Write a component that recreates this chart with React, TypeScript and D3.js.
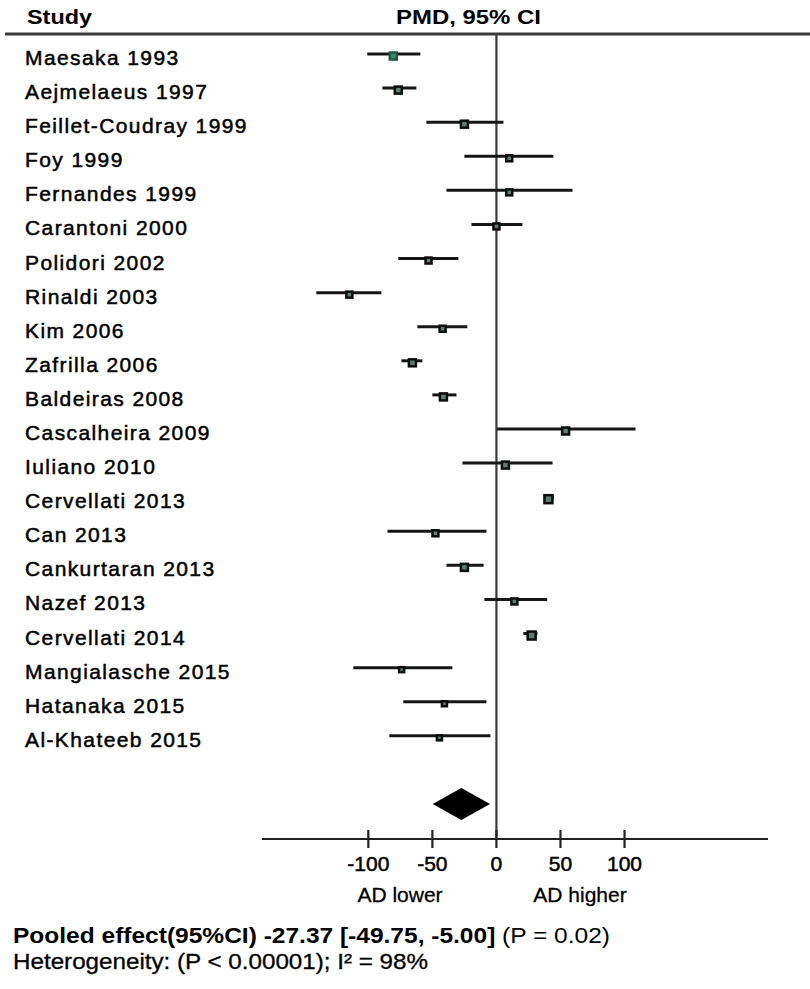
import React, { useEffect, useRef } from 'react';
import * as d3 from 'd3';

// studies, top to bottom
const studies = [
  'Maesaka 1993', 'Aejmelaeus 1997', 'Feillet-Coudray 1999', 'Foy 1999', 'Fernandes 1999',
  'Carantoni 2000', 'Polidori 2002', 'Rinaldi 2003', 'Kim 2006', 'Zafrilla 2006',
  'Baldeiras 2008', 'Cascalheira 2009', 'Iuliano 2010', 'Cervellati 2013', 'Can 2013',
  'Cankurtaran 2013', 'Nazef 2013', 'Cervellati 2014', 'Mangialasche 2015', 'Hatanaka 2015',
  'Al-Khateeb 2015'
];
const pmd = [-80.5, -76.6, -25, 10, 10, 0, -53, -114.8, -42, -65.6, -41.4, 54, 7, 40.6, -47.6, -25, 14, 27.5, -74, -40.6, -44.5];
const lower = [-100.8, -89, -54.7, -25, -39, -19.5, -76.6, -140.6, -61.7, -74.2, -50, 0.5, -26.5, 37, -85, -39, -9.4, 21, -111.7, -72.7, -83.6];
const upper = [-59.4, -62.5, 5.5, 44.5, 59.4, 20.3, -29.7, -89.8, -22.7, -57.8, -31.2, 108.6, 43.8, 45, -7.8, -10, 39.6, 32, -34.4, -7.8, -4.7];
const weight = [7, 7, 7, 6, 6, 6, 6, 6, 6, 7, 7, 7, 7, 8, 6, 7, 6, 8, 5, 5, 5];

const pooled = { est: -27.37, lo: -49.75, hi: -5.0 };
const xTicks = [-100, -50, 0, 50, 100];
const xDomain = [-183, 212];

export default function App() {
  const ref = useRef<SVGSVGElement>(null);

  useEffect(() => {
    const W = 810;
    const H = 989;
    const svg = d3.select(ref.current);
    svg.selectAll('*').remove();
    svg.attr('width', W).attr('height', H);

    const x = d3.scaleLinear().domain(xDomain).range([262, 768]);
    const y = d3.scaleLinear().domain([0, 22]).range([54, 804]);
    const axisY = 839;
    const font = 'Liberation Sans, Arial, Helvetica, sans-serif';

    // header
    svg.append('text').text('Study')
      .attr('x', 27).attr('y', 24)
      .attr('font-family', font).attr('font-size', 20).attr('font-weight', 'bold')
      .attr('textLength', 65).attr('lengthAdjust', 'spacingAndGlyphs');
    svg.append('text').text('PMD, 95% CI')
      .attr('x', 396).attr('y', 24)
      .attr('font-family', font).attr('font-size', 20).attr('font-weight', 'bold')
      .attr('textLength', 145).attr('lengthAdjust', 'spacingAndGlyphs');
    svg.append('line')
      .attr('x1', 5).attr('x2', W).attr('y1', 34).attr('y2', 34)
      .attr('stroke', '#3a3a3a').attr('stroke-width', 3);

    // zero line
    svg.append('line')
      .attr('x1', x(0)).attr('x2', x(0)).attr('y1', 34).attr('y2', axisY)
      .attr('stroke', '#3a3a3a').attr('stroke-width', 2.2);

    // study labels
    svg.append('g').selectAll('text').data(studies).enter().append('text')
      .text(d => d)
      .attr('x', 25)
      .attr('y', (d, i) => y(i) + 11)
      .attr('font-family', font).attr('font-size', 21)
      .attr('letter-spacing', 1.4)
      .attr('stroke', '#000').attr('stroke-width', 0.5)
      .attr('fill', '#000');

    // CI lines
    const g = svg.append('g');
    g.selectAll('line').data(studies).enter().append('line')
      .attr('x1', (d, i) => x(lower[i]))
      .attr('x2', (d, i) => x(upper[i]))
      .attr('y1', (d, i) => y(i))
      .attr('y2', (d, i) => y(i))
      .attr('stroke', '#161616').attr('stroke-width', 3);

    // point estimates
    g.selectAll('rect').data(studies).enter().append('rect')
      .attr('x', (d, i) => x(pmd[i]) - weight[i] / 2)
      .attr('y', (d, i) => y(i) - weight[i] / 2 + 2)
      .attr('width', (d, i) => weight[i])
      .attr('height', (d, i) => weight[i])
      .attr('fill', (d, i) => i === 0 ? '#3f8a66' : '#5f7f6c')
      .attr('stroke', (d, i) => i === 0 ? '#1d5a3e' : '#0d0d0d')
      .attr('stroke-width', 2.5);

    // pooled diamond
    const dy = y(22);
    svg.append('path')
      .attr('d', `M${x(pooled.lo)},${dy} L${x(pooled.est)},${dy - 16} L${x(pooled.hi)},${dy} L${x(pooled.est)},${dy + 16} Z`)
      .attr('fill', '#000');

    // axis
    svg.append('line')
      .attr('x1', x.range()[0]).attr('x2', x.range()[1])
      .attr('y1', axisY).attr('y2', axisY)
      .attr('stroke', '#222').attr('stroke-width', 2.2);
    svg.append('g').selectAll('line').data(xTicks).enter().append('line')
      .attr('x1', d => x(d)).attr('x2', d => x(d))
      .attr('y1', axisY - 9).attr('y2', axisY + 9)
      .attr('stroke', '#222').attr('stroke-width', 2.2);
    svg.append('g').selectAll('text').data(xTicks).enter().append('text')
      .text(d => String(d))
      .attr('x', d => x(d)).attr('y', 871)
      .attr('text-anchor', 'middle')
      .attr('font-family', font).attr('font-size', 21)
      .attr('stroke', '#000').attr('stroke-width', 0.5);
    svg.append('text').text('AD lower')
      .attr('x', 400).attr('y', 902).attr('text-anchor', 'middle')
      .attr('font-family', font).attr('font-size', 21)
      .attr('stroke', '#000').attr('stroke-width', 0.3);
    svg.append('text').text('AD higher')
      .attr('x', 580).attr('y', 902).attr('text-anchor', 'middle')
      .attr('font-family', font).attr('font-size', 21)
      .attr('stroke', '#000').attr('stroke-width', 0.3);

    // summary text
    const t1 = svg.append('text')
      .attr('x', 13).attr('y', 943)
      .attr('font-family', font).attr('font-size', 22)
      .attr('textLength', 597).attr('lengthAdjust', 'spacingAndGlyphs');
    t1.append('tspan').attr('font-weight', 'bold')
      .text(`Pooled effect(95%CI) ${pooled.est.toFixed(2)} [${pooled.lo.toFixed(2)}, ${pooled.hi.toFixed(2)}]`);
    t1.append('tspan').text(' (P = 0.02)');

    svg.append('text').text('Heterogeneity: (P < 0.00001); I² = 98%')
      .attr('x', 13).attr('y', 969)
      .attr('font-family', font).attr('font-size', 22)
      .attr('stroke', '#000').attr('stroke-width', 0.3)
      .attr('textLength', 415).attr('lengthAdjust', 'spacingAndGlyphs');
  }, []);

  return (
    <svg ref={ref} style={{ position: 'absolute', left: 0, top: 0, background: '#fff' }} />
  );
}
